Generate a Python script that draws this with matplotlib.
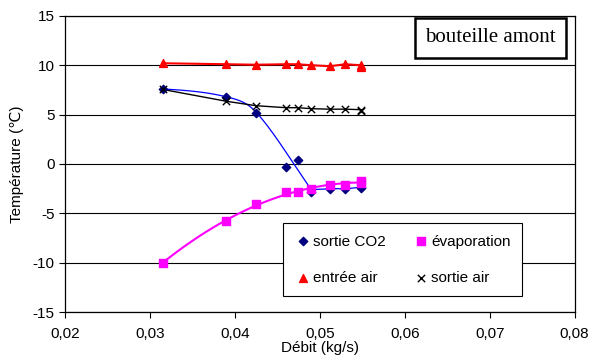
import numpy as np
import matplotlib
matplotlib.use("Agg")
import matplotlib.pyplot as plt
from matplotlib.ticker import FuncFormatter

# débit (kg/s)
debit = [0.0315, 0.039, 0.0425, 0.046, 0.0474, 0.049, 0.0512, 0.053, 0.0548, 0.0549]

sortie_co2 = [7.6, 6.8, 5.2, -0.35, 0.45, -2.8, -2.5, -2.55, -2.4, -2.35]
evaporation = [-10.0, -5.8, -4.1, -2.85, -2.85, -2.55, -2.1, -2.1, -1.9, -1.7]
entree_air = [10.2, 10.1, 10.05, 10.1, 10.1, 10.0, 9.9, 10.1, 10.0, 9.85]
sortie_air = [7.55, 6.35, 5.9, 5.7, 5.7, 5.6, 5.55, 5.55, 5.5, 5.4]

# courbe de tendance CO2
tend_co2_x = [0.0315, 0.039, 0.0425, 0.049, 0.0512, 0.053, 0.0549]
tend_co2_y = [7.6, 6.8, 5.25, -2.6, -2.5, -2.5, -2.35]


def lisser(x, y, n=40):
    # hermite cubique, pentes centrées ; cassure franche aux extrema (comme le lissage Excel)
    x = np.asarray(x, float)
    y = np.asarray(y, float)
    h = np.diff(x)
    d = np.diff(y) / h
    ml = np.zeros_like(y)
    mr = np.zeros_like(y)
    ml[0] = mr[0] = d[0] / 2
    ml[-1] = mr[-1] = d[-1]
    for i in range(1, len(x) - 1):
        if d[i - 1] * d[i] < 0:
            ml[i], mr[i] = d[i - 1], d[i]
        else:
            ml[i] = mr[i] = (y[i + 1] - y[i - 1]) / (x[i + 1] - x[i - 1])
    xs, ys = [], []
    t = np.linspace(0, 1, n)
    h00 = 2 * t ** 3 - 3 * t ** 2 + 1
    h10 = t ** 3 - 2 * t ** 2 + t
    h01 = -2 * t ** 3 + 3 * t ** 2
    h11 = t ** 3 - t ** 2
    for i in range(len(x) - 1):
        xs.extend(x[i] + t * h[i])
        ys.extend(h00 * y[i] + h10 * h[i] * mr[i] + h01 * y[i + 1] + h11 * h[i] * ml[i + 1])
    return xs, ys


plt.rcParams['font.family'] = ['Liberation Sans', 'DejaVu Sans']
plt.rcParams['axes.unicode_minus'] = False
fig = plt.figure(figsize=(5.9, 3.6), dpi=100)
ax = fig.add_axes([0.110, 0.133, 0.864, 0.823])

# courbes
cx, cy = lisser(tend_co2_x, tend_co2_y)
ax.plot(cx, cy, color='#0000FF', lw=0.9, zorder=3)
coef = np.polyfit(debit, evaporation, 2)
xf = np.linspace(debit[0], debit[-1], 100)
ax.plot(xf, np.polyval(coef, xf), color='#FF00FF', lw=1.5, zorder=3)
ax.plot(debit, entree_air, color='#FF0000', lw=1.5, zorder=3)
ax.plot(debit, sortie_air, color='black', lw=1.0, zorder=3)

# points
h_co2 = ax.scatter(debit, sortie_co2, marker='D', s=18, color='#000080', zorder=4, label='sortie CO2')
h_evap = ax.scatter(debit, evaporation, marker='s', s=28, color='#FF00FF', zorder=4, label='évaporation')
h_ent = ax.scatter(debit, entree_air, marker='^', s=32, color='#FF0000', zorder=4, label='entrée air')
h_sort = ax.scatter(debit, sortie_air, marker='x', s=28, color='black', lw=1.0, zorder=4, label='sortie air')

ax.set_xlim(0.02, 0.08)
ax.set_ylim(-15, 15)
ax.set_xticks(np.arange(0.02, 0.0801, 0.01))
ax.set_yticks(range(-15, 16, 5))
ax.xaxis.set_major_formatter(FuncFormatter(lambda v, p: f"{v:.2f}".replace('.', ',')))
ax.tick_params(direction='out', length=4, width=0.8, labelsize=11, colors='black')
ax.tick_params(axis='x', pad=7)
ax.yaxis.grid(True, color='black', lw=0.8)
ax.set_axisbelow(True)
for s in ax.spines.values():
    s.set_color('black')
    s.set_linewidth(0.9)

ax.set_xlabel('Débit (kg/s)', fontsize=11, labelpad=0)
ax.set_ylabel('Température (℃)', fontsize=11, labelpad=6)

ax.text(0.835, 0.926, 'bouteille amont', transform=ax.transAxes, ha='center', va='center',
        fontsize=15, family='Liberation Serif',
        bbox=dict(boxstyle='square,pad=0.5', fc='white', ec='black', lw=1.8))

# ordre des colonnes : sortie CO2 / entrée air, puis évaporation / sortie air
leg = ax.legend([h_co2, h_ent, h_evap, h_sort],
                ['sortie CO2', 'entrée air', 'évaporation', 'sortie air'],
                ncol=2, loc='lower left', bbox_to_anchor=(0.427, 0.054), borderaxespad=0,
                fontsize=11, handletextpad=0.05, columnspacing=1.7, labelspacing=1.45,
                handlelength=1.2, scatterpoints=1, fancybox=False, framealpha=1,
                edgecolor='black', borderpad=0.75)
leg.get_frame().set_linewidth(0.8)

fig.savefig('out.png', dpi=100)
